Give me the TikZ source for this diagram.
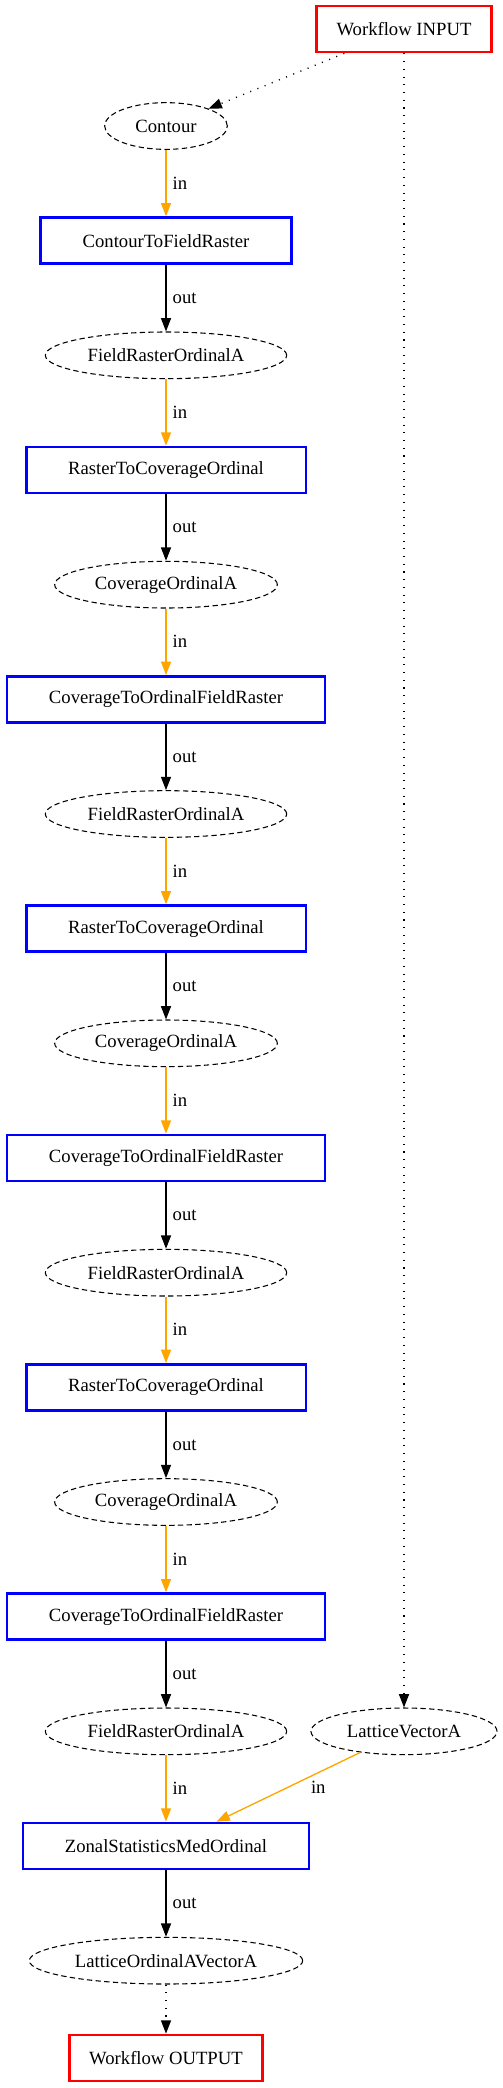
\documentclass[tikz,border=0pt]{standalone}
\usepackage{fontspec}
\setmainfont{Liberation Serif}
\usetikzlibrary{arrows.meta,positioning,shapes.geometric}
\definecolor{gvorange}{RGB}{255,165,0}
\newcommand{\gvfont}{\fontsize{14}{17}\selectfont}

\begin{document}
\begin{tikzpicture}[
    x=0.75pt, y=-0.75pt,
    node distance=49.85pt,
    task/.style={draw=blue, line width=2pt, minimum height=34.5pt, inner xsep=31.5pt, font=\gvfont},
    io/.style={draw=red, line width=2pt, minimum height=34.5pt, inner xsep=15pt, font=\gvfont},
    data/.style={ellipse, draw, dash pattern=on 4pt off 2.5pt, line width=0.8pt, inner sep=0pt, minimum height=35pt, minimum width=#1, font=\gvfont},
    flow/.style={-{Triangle[length=10pt, width=7.5pt]}, line width=1pt},
    feed/.style={flow, color=gvorange},
    link/.style={flow, dash pattern=on 0.8pt off 5pt},
    lbl/.style={right, inner sep=4.5pt, text=black, font=\gvfont}
]
    \useasboundingbox (0,0) rectangle (503,2088);

    \node[io] (inp) at (404,29) {Workflow INPUT};
    \node[data=92pt] (contour) at (166,126) {Contour};
    \node[task, below=of contour] (c2f) {ContourToFieldRaster};
    \node[data=181pt, below=of c2f] (fro1) {FieldRasterOrdinalA};
    \node[task, below=of fro1] (r2c1) {RasterToCoverageOrdinal};
    \node[data=167pt, below=of r2c1] (cov1) {CoverageOrdinalA};
    \node[task, below=of cov1] (c2o1) {CoverageToOrdinalFieldRaster};
    \node[data=181pt, below=of c2o1] (fro2) {FieldRasterOrdinalA};
    \node[task, below=of fro2] (r2c2) {RasterToCoverageOrdinal};
    \node[data=167pt, below=of r2c2] (cov2) {CoverageOrdinalA};
    \node[task, below=of cov2] (c2o2) {CoverageToOrdinalFieldRaster};
    \node[data=181pt, below=of c2o2] (fro3) {FieldRasterOrdinalA};
    \node[task, below=of fro3] (r2c3) {RasterToCoverageOrdinal};
    \node[data=167pt, below=of r2c3] (cov3) {CoverageOrdinalA};
    \node[task, below=of cov3] (c2o3) {CoverageToOrdinalFieldRaster};
    \node[data=181pt, below=of c2o3] (fro4) {FieldRasterOrdinalA};
    \node[data=139.5pt] (lva) at (inp |- fro4) {LatticeVectorA};
    \node[task, below=of fro4] (zonal) {ZonalStatisticsMedOrdinal};
    \node[data=205pt, below=of zonal] (lova) {LatticeOrdinalAVectorA};
    \node[io, below=36.85pt of lova] (outp) {Workflow OUTPUT};

    \draw[link] (inp) -- (contour);
    \draw[link] (inp) -- (lva);
    \draw[feed] (contour) -- node[lbl] {in} (c2f);
    \draw[flow] (c2f) -- node[lbl] {out} (fro1);
    \draw[feed] (fro1) -- node[lbl] {in} (r2c1);
    \draw[flow] (r2c1) -- node[lbl] {out} (cov1);
    \draw[feed] (cov1) -- node[lbl] {in} (c2o1);
    \draw[flow] (c2o1) -- node[lbl] {out} (fro2);
    \draw[feed] (fro2) -- node[lbl] {in} (r2c2);
    \draw[flow] (r2c2) -- node[lbl] {out} (cov2);
    \draw[feed] (cov2) -- node[lbl] {in} (c2o2);
    \draw[flow] (c2o2) -- node[lbl] {out} (fro3);
    \draw[feed] (fro3) -- node[lbl] {in} (r2c3);
    \draw[flow] (r2c3) -- node[lbl] {out} (cov3);
    \draw[feed] (cov3) -- node[lbl] {in} (c2o3);
    \draw[flow] (c2o3) -- node[lbl] {out} (fro4);
    \draw[feed] (fro4) -- node[lbl] {in} (zonal);
    \draw[feed] (lva) -- node[lbl, right=12pt] {in} (zonal);
    \draw[flow] (zonal) -- node[lbl] {out} (lova);
    \draw[link] (lova) -- (outp);
\end{tikzpicture}
\end{document}
